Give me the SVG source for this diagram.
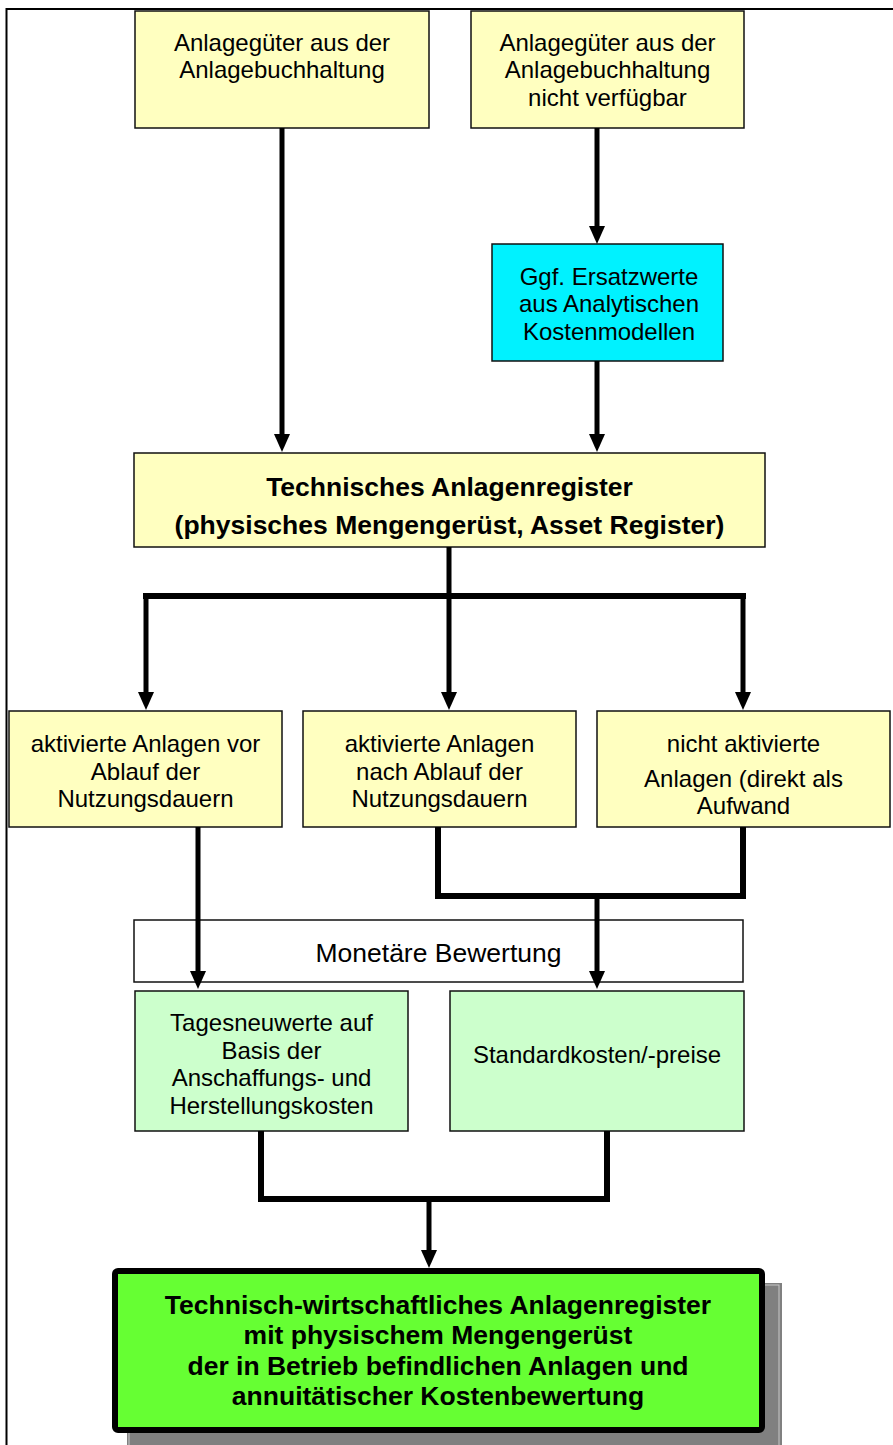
<svg xmlns="http://www.w3.org/2000/svg" width="893" height="1445" viewBox="0 0 893 1445">
  <style>
    .box { stroke: #111; stroke-width: 1.5; }
    .yellow { fill: #FFFFC0; }
    .cyan { fill: #00F2FF; }
    .mint { fill: #CCFFCC; }
    .white { fill: #FFFFFF; }
    text { font-family: "Liberation Sans", Arial, sans-serif; fill: #000; text-anchor: middle; }
    .t { font-size: 24px; }
    .tl { font-size: 26.5px; }
    .b { font-size: 26.5px; font-weight: bold; }
    .conn { fill: none; stroke: #000; stroke-width: 5; }
    .thick { stroke-width: 6; }
  </style>
  <defs>
    <marker id="arrow" viewBox="0 0 18 16" markerWidth="18" markerHeight="16" refX="0" refY="8" orient="auto" markerUnits="userSpaceOnUse">
      <path d="M0,0 L18,8 L0,16 z" fill="#000"/>
    </marker>
  </defs>

  <!-- page frame -->
  <g id="frame" fill="none" stroke="#000" stroke-width="2">
    <path d="M6.5,1445 V9 H893"/>
  </g>

  <g id="n-anlagebuchhaltung">
    <rect class="box yellow" x="135" y="11" width="294" height="117"/>
    <text class="t" x="282" y="51">Anlagegüter aus der</text>
    <text class="t" x="282" y="78">Anlagebuchhaltung</text>
  </g>

  <g id="n-nicht-verfuegbar">
    <rect class="box yellow" x="471" y="11" width="273" height="117"/>
    <text class="t" x="607.5" y="51">Anlagegüter aus der</text>
    <text class="t" x="607.5" y="78">Anlagebuchhaltung</text>
    <text class="t" x="607.5" y="106">nicht verfügbar</text>
  </g>

  <g id="n-ersatzwerte">
    <rect class="box cyan" x="492" y="244" width="231" height="117"/>
    <text class="t" x="609" y="285">Ggf. Ersatzwerte</text>
    <text class="t" x="609" y="312">aus Analytischen</text>
    <text class="t" x="609" y="340">Kostenmodellen</text>
  </g>

  <g id="n-technisches-register">
    <rect class="box yellow" x="134" y="453" width="631" height="94"/>
    <text class="b" x="449.5" y="496">Technisches Anlagenregister</text>
    <text class="b" x="449.5" y="534">(physisches Mengengerüst, Asset Register)</text>
  </g>

  <g id="n-vor-ablauf">
    <rect class="box yellow" x="9" y="711" width="273" height="116"/>
    <text class="t" x="145.5" y="752">aktivierte Anlagen vor</text>
    <text class="t" x="145.5" y="780">Ablauf der</text>
    <text class="t" x="145.5" y="807">Nutzungsdauern</text>
  </g>

  <g id="n-nach-ablauf">
    <rect class="box yellow" x="303" y="711" width="273" height="116"/>
    <text class="t" x="439.5" y="752">aktivierte Anlagen</text>
    <text class="t" x="439.5" y="780">nach Ablauf der</text>
    <text class="t" x="439.5" y="807">Nutzungsdauern</text>
  </g>

  <g id="n-nicht-aktiviert">
    <rect class="box yellow" x="597" y="711" width="293" height="116"/>
    <text class="t" x="743.5" y="752">nicht aktivierte</text>
    <text class="t" x="743.5" y="787">Anlagen (direkt als</text>
    <text class="t" x="743.5" y="814">Aufwand</text>
  </g>

  <g id="n-monetaere-bewertung">
    <rect class="box white" x="134" y="920" width="609" height="62"/>
    <text class="tl" x="438.5" y="962">Monetäre Bewertung</text>
  </g>

  <g id="n-tagesneuwerte">
    <rect class="box mint" x="135" y="991" width="273" height="140"/>
    <text class="t" x="271.5" y="1031">Tagesneuwerte auf</text>
    <text class="t" x="271.5" y="1059">Basis der</text>
    <text class="t" x="271.5" y="1086">Anschaffungs- und</text>
    <text class="t" x="271.5" y="1114">Herstellungskosten</text>
  </g>

  <g id="n-standardkosten">
    <rect class="box mint" x="450" y="991" width="294" height="140"/>
    <text class="t" x="597" y="1063">Standardkosten/-preise</text>
  </g>

  <g id="n-ergebnis">
    <rect x="127" y="1283" width="655" height="170" fill="#808080"/>
    <rect x="129" y="1285" width="650" height="170" fill="none" stroke="#C8C8C8" stroke-width="1"/>
    <rect x="115" y="1271" width="647" height="159" rx="3" fill="#66FF33" stroke="#000" stroke-width="6"/>
    <text class="b" x="438" y="1314">Technisch-wirtschaftliches Anlagenregister</text>
    <text class="b" x="438" y="1344">mit physischem Mengengerüst</text>
    <text class="b" x="438" y="1375">der in Betrieb befindlichen Anlagen und</text>
    <text class="b" x="438" y="1405">annuitätischer Kostenbewertung</text>
  </g>

  <g id="connectors">
    <path class="conn" d="M282,128 V434" marker-end="url(#arrow)"/>
    <path class="conn" d="M597,128 V226" marker-end="url(#arrow)"/>
    <path class="conn" d="M597,361 V434" marker-end="url(#arrow)"/>

    <path class="conn" d="M449,547 V692" marker-end="url(#arrow)"/>
    <path class="conn thick" d="M146,596 H743" stroke-linecap="square"/>
    <path class="conn" d="M146,596 V692" marker-end="url(#arrow)"/>
    <path class="conn" d="M743,596 V692" marker-end="url(#arrow)"/>

    <path class="conn" d="M198,827 V971" marker-end="url(#arrow)"/>
    <path class="conn thick" d="M438,827 V896 H743 V827"/>
    <path class="conn" d="M597,896 V971" marker-end="url(#arrow)"/>

    <path class="conn thick" d="M261,1131 V1199 H607 V1131"/>
    <path class="conn" d="M429,1199 V1250" marker-end="url(#arrow)"/>
  </g>
</svg>
